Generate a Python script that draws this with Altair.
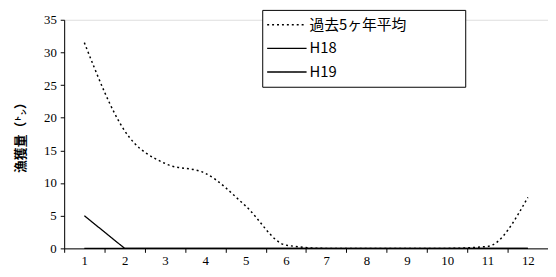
import altair as alt
import pandas as pd

months = [1, 2, 3, 4, 5, 6, 7, 8, 9, 10, 11, 12]
avg5 = [31.5, 18.0, 13.0, 11.5, 6.5, 0.5, 0.0, 0.0, 0.0, 0.0, 0.3, 7.8]
h18 = [5.0, 0.0, 0.0, 0.0, 0.0, 0.0, 0.0, 0.0, 0.0, 0.0, 0.0, 0.0]
h19 = [0.0, 0.0, 0.0, 0.0, 0.0, 0.0, 0.0, 0.0, 0.0, 0.0, 0.0, 0.0]
series_names = ["過去5ヶ年平均", "H18", "H19"]
y_ticks = [0, 5, 10, 15, 20, 25, 30, 35]

rows = []
for name, vals in zip(series_names, [avg5, h18, h19]):
    for m, v in zip(months, vals):
        rows.append({"month": m, "value": v, "series": name})
df = pd.DataFrame(rows)

W = 491
H = 232
step = W / 12.0

base_font = "Liberation Sans Narrow"
jp_font = "Noto Sans CJK JP"

legend = alt.Legend(title=None, orient="none", legendX=201, legendY=-10,
                    symbolType="stroke", symbolSize=1600, symbolStrokeWidth=1.4,
                    clipHeight=22, rowPadding=2,
                    labelFont=jp_font, labelFontSize=15, labelColor="black",
                    labelOffset=2, padding=4,
                    labelExpr="datum.label + '\u2800\u2800\u2800\u2800\u2800'",
                    strokeColor="black", fillColor="white",
                    labelLimit=250)

x_enc = alt.X("month:Q",
              scale=alt.Scale(domain=[0.5, 12.5], nice=False, zero=False),
              axis=alt.Axis(values=months, title=None, grid=False,
                            tickOffset=-step / 2, labelOffset=step / 2,
                            tickSize=4, tickColor="black", domainColor="black",
                            labelColor="black", labelFont=base_font, labelFontSize=13,
                            labelPadding=2, labelFlush=False))
y_enc = alt.Y("value:Q",
              scale=alt.Scale(domain=[0, 35], nice=False),
              axis=alt.Axis(values=y_ticks, title="漁獲量（㌧）", grid=False,
                            tickSize=4, tickColor="black", domainColor="black",
                            labelColor="black", labelFont=base_font, labelFontSize=13,
                            labelPadding=4,
                            titleFont=jp_font, titleFontSize=13, titleFontWeight="bold",
                            titleColor="black", titlePadding=16))
color_enc = alt.Color("series:N",
                      scale=alt.Scale(domain=series_names, range=["black", "black", "black"]),
                      legend=legend)
dash_enc = alt.StrokeDash("series:N",
                          scale=alt.Scale(domain=series_names,
                                          range=[[2, 3], [1, 0], [1, 0]]),
                          legend=legend)

base = alt.Chart(df).encode(x=x_enc, y=y_enc, color=color_enc, strokeDash=dash_enc)

avg_layer = base.transform_filter(
    alt.datum.series == series_names[0]
).mark_line(interpolate="monotone", strokeWidth=1.5)

year_layer = base.transform_filter(
    alt.datum.series != series_names[0]
).mark_line(strokeWidth=1.3)

chart = alt.layer(avg_layer, year_layer).properties(
    width=W, height=H,
    autosize=alt.AutoSizeParams(type="none"),
    padding={"left": 57, "top": 10, "right": 0, "bottom": 19},
).configure_view(stroke=None).configure(background="white")

chart.save("out.html", embed_options={"renderer": "svg", "actions": False})
